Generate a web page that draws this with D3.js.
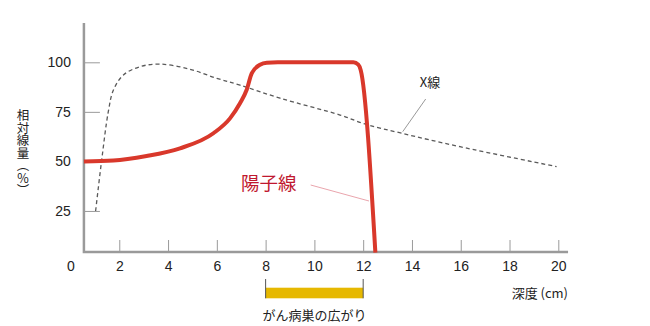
<!DOCTYPE html>
<html>
<head>
<meta charset="utf-8">
<script src="https://cdn.jsdelivr.net/npm/d3@7"></script>
<style>
  body { margin: 0; background: #fff; }
  text { font-family: "Liberation Sans", Arial, sans-serif; }
  .jp { font-family: "Noto Sans CJK JP", sans-serif; }
</style>
</head>
<body>
<script>
// depth (cm) / relative dose (%)
var protonDepth = [0.55, 1.76, 3.12, 4.49, 5.86, 6.54, 6.95, 7.22, 7.43, 7.77, 8.05, 8.5, 11.6, 11.8, 11.9, 12.5];
var protonDose  = [50, 50.4, 52.7, 56.6, 64.2, 71.7, 79.3, 86, 94.4, 98.8, 99.8, 100, 100, 98.8, 96, 4];

var xrayDepth = [1.03, 1.28, 1.55, 1.76, 2.17, 2.85, 3.67, 4.9, 6.0, 6.95, 8.59, 11.05, 12.07, 13.58, 15.97, 19.93];
var xrayDose  = [25, 50.8, 75.1, 86, 93.6, 97.8, 99.1, 96.5, 91.9, 88.5, 81.9, 73.4, 68.9, 64.2, 57.4, 47.4];

var xTicks = [0, 2, 4, 6, 8, 10, 12, 14, 16, 18, 20];
var yTicks = [25, 50, 75, 100];
var tumorRange = [8, 12];

const width = 650;
const height = 326;

var svg = d3.select('body').append('svg')
    .attr('width', width)
    .attr('height', height);

const x = d3.scaleLinear().domain([0, 20]).range([70.5, 558.3]);
const y = d3.scaleLinear().domain([0, 100]).range([260.5, 62.3]);

const axisY = 252;   // x axis line position
const axisColor = '#9a9a9a';

// x axis (ticks point inward)
var gx = svg.append('g')
    .attr('transform', `translate(0, ${axisY})`)
    .call(d3.axisBottom(x).tickValues(xTicks).tickSizeInner(-12).tickSizeOuter(0).tickPadding(9));
gx.select('.domain').remove();
gx.selectAll('.tick line').attr('stroke', axisColor).filter(d => d === 0).remove();
gx.selectAll('.tick text').attr('fill', '#222').style('font-size', '14px');

// y axis
var gy = svg.append('g')
    .attr('transform', `translate(${x(0.55)}, 0)`)
    .call(d3.axisLeft(y).tickValues(yTicks).tickSizeInner(-16).tickSizeOuter(0).tickPadding(13));
gy.select('.domain').remove();
gy.selectAll('.tick line').attr('stroke', axisColor);
gy.selectAll('.tick text').attr('fill', '#222').style('font-size', '14px');

// axis lines
svg.append('path')
    .attr('d', `M${x(0.55)},23 V${axisY} H${x(20.4)}`)
    .attr('fill', 'none')
    .attr('stroke', axisColor)
    .attr('stroke-width', 2.5);

var xrayLine = d3.line()
    .x(d => x(d[0]))
    .y(d => y(d[1]))
    .curve(d3.curveCatmullRom.alpha(0.5));

var protonLine = d3.line()
    .x(d => x(d[0]))
    .y(d => y(d[1]))
    .curve(d3.curveMonotoneX);

// X-ray (dashed)
svg.append('path')
    .datum(xrayDepth.map((d, i) => [d, xrayDose[i]]))
    .attr('d', xrayLine)
    .attr('fill', 'none')
    .attr('stroke', '#5a5a5a')
    .attr('stroke-width', 1.3)
    .attr('stroke-dasharray', '4,3');

// proton
svg.append('path')
    .datum(protonDepth.map((d, i) => [d, protonDose[i]]))
    .attr('d', protonLine)
    .attr('fill', 'none')
    .attr('stroke', '#d9382b')
    .attr('stroke-width', 4)
    .attr('stroke-linejoin', 'round');

// callouts
svg.append('line')
    .attr('x1', 425.7).attr('y1', 99).attr('x2', 402.7).attr('y2', 131.7)
    .attr('stroke', '#999').attr('stroke-width', 1);
svg.append('text')
    .attr('class', 'jp')
    .attr('x', 430).attr('y', 87)
    .attr('text-anchor', 'middle')
    .style('font-size', '13px')
    .attr('fill', '#222')
    .text('X線');

svg.append('line')
    .attr('x1', 310.7).attr('y1', 185).attr('x2', 369).attr('y2', 201)
    .attr('stroke', '#eaa5ad').attr('stroke-width', 1);
svg.append('text')
    .attr('class', 'jp')
    .attr('x', 241).attr('y', 190)
    .style('font-size', '18.5px')
    .attr('fill', '#c0182f')
    .text('陽子線');

// y title
svg.append('text')
    .attr('class', 'jp')
    .attr('x', 23).attr('y', 109)
    .style('writing-mode', 'vertical-rl')
    .style('font-size', '12.5px')
    .attr('fill', '#222')
    .text('相対線量（％）');

// x title
svg.append('text')
    .attr('class', 'jp')
    .attr('x', 568).attr('y', 298)
    .attr('text-anchor', 'end')
    .style('font-size', '13px')
    .attr('fill', '#222')
    .text('深度 (cm)');

// tumor extent bar
svg.append('rect')
    .attr('x', x(tumorRange[0]))
    .attr('y', 287.7)
    .attr('width', x(tumorRange[1]) - x(tumorRange[0]))
    .attr('height', 10.6)
    .attr('fill', '#e6b800');
svg.selectAll('.tumorEdge')
    .data(tumorRange)
    .enter().append('line')
    .attr('x1', d => x(d)).attr('x2', d => x(d))
    .attr('y1', 279).attr('y2', 298.3)
    .attr('stroke', '#555').attr('stroke-width', 1);
svg.append('text')
    .attr('class', 'jp')
    .attr('x', x(10)).attr('y', 320)
    .attr('text-anchor', 'middle')
    .style('font-size', '13px')
    .attr('fill', '#222')
    .text('がん病巣の広がり');
</script>
</body>
</html>
